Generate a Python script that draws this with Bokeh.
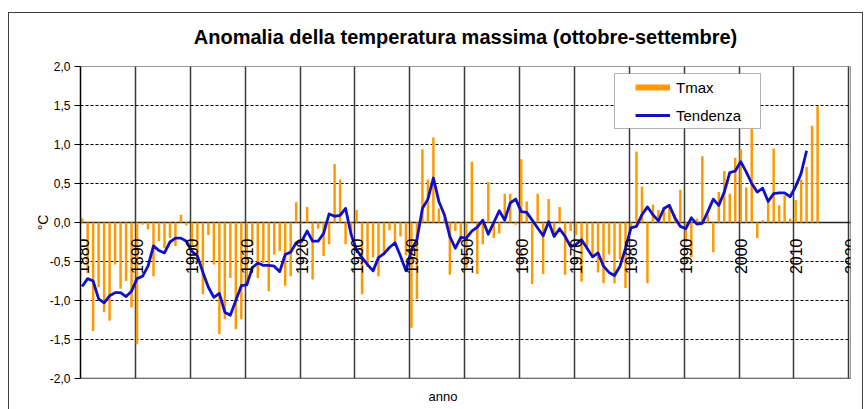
import math
from bokeh.plotting import figure
from bokeh.models import (Range1d, FixedTicker, Span, Legend, LegendItem, Title,
                          ColumnDataSource, BoxAnnotation, InlineStyleSheet)
from bokeh.transform import dodge
from bokeh.core.properties import value
from bokeh.embed import file_html
from bokeh.resources import INLINE

# ---------------- data ----------------
years = list(range(1880, 2015))
tmax = [
    0.05, -0.65, -1.39, -0.83, -1.15, -1.26, -0.54, -0.85, -0.75, -1.09,   # 1880-1889
    -1.56, -0.03, -0.09, -0.69, -0.24, -0.33, -0.20, -0.30, 0.10, -0.04,   # 1890-1899
    -0.30, -0.50, -0.92, -0.16, -0.54, -1.43, -1.24, -0.71, -1.37, -1.24,  # 1900-1909
    -0.78, -0.30, -0.71, -0.52, -0.88, -0.41, -0.37, -0.81, -0.69, 0.26,   # 1910-1919
    -0.02, 0.20, -0.73, -0.08, -0.43, -0.28, 0.75, 0.55, -0.28, -0.16,     # 1920-1929
    0.16, -0.92, -0.57, -0.45, -0.69, -0.42, -0.10, -0.30, -0.18, -0.42,   # 1930-1939
    -1.35, -0.98, 0.94, 0.55, 1.09, 0.18, 0.05, -0.67, -0.11, -0.26,       # 1940-1949
    -0.58, 0.78, -0.66, -0.28, 0.52, -0.20, -0.14, 0.37, 0.37, -0.03,      # 1950-1959
    0.81, 0.27, -0.79, 0.37, -0.66, 0.30, -0.18, 0.20, -0.67, -0.11,       # 1960-1969
    -0.16, -0.76, -0.35, -0.45, -0.64, -0.78, -0.41, -0.78, -0.47, -0.84,  # 1970-1979
    -0.10, 0.91, 0.46, -0.78, 0.23, 0.16, 0.20, 0.22, 0.10, 0.42,          # 1980-1989
    -0.25, -0.45, 0.05, 0.85, 0.10, -0.38, 0.39, 0.66, 0.37, 0.83,         # 1990-1999
    0.94, 0.45, 1.20, -0.20, 0.03, 0.27, 0.95, 0.22, 0.35, 0.05,           # 2000-2009
    0.29, 0.55, 0.71, 1.24, 1.49,                                          # 2010-2014
]
trend_years = list(range(1880, 2013))
trend = [
    -0.82, -0.72, -0.75, -0.98, -1.03, -0.94, -0.90, -0.90, -0.95, -0.88,  # 1880-1889
    -0.72, -0.69, -0.56, -0.30, -0.36, -0.39, -0.25, -0.20, -0.20, -0.24,  # 1890-1899
    -0.37, -0.43, -0.64, -0.83, -0.96, -0.91, -1.15, -1.19, -1.00, -0.81,  # 1900-1909
    -0.80, -0.58, -0.52, -0.55, -0.55, -0.56, -0.63, -0.41, -0.38, -0.26,  # 1910-1919
    -0.24, -0.11, -0.24, -0.24, -0.14, 0.11, 0.08, 0.09, 0.18, -0.15,      # 1920-1929
    -0.35, -0.45, -0.54, -0.62, -0.45, -0.40, -0.32, -0.26, -0.43, -0.62,  # 1930-1939
    -0.35, -0.22, 0.18, 0.30, 0.57, 0.27, 0.10, -0.18, -0.33, -0.19,       # 1940-1949
    -0.20, -0.11, -0.06, 0.03, -0.15, 0.00, 0.15, 0.03, 0.25, 0.30,        # 1950-1959
    0.14, 0.13, 0.03, -0.07, -0.17, 0.01, -0.18, -0.08, -0.18, -0.31,      # 1960-1969
    -0.28, -0.22, -0.33, -0.44, -0.39, -0.56, -0.64, -0.68, -0.56, -0.33,  # 1970-1979
    -0.07, -0.05, 0.10, 0.20, 0.10, 0.02, 0.18, 0.22, 0.06, -0.05,         # 1980-1989
    -0.08, 0.06, -0.02, -0.01, 0.14, 0.30, 0.22, 0.39, 0.64, 0.66,         # 1990-1999
    0.78, 0.65, 0.50, 0.39, 0.44, 0.27, 0.37, 0.38, 0.38, 0.33,            # 2000-2009
    0.46, 0.63, 0.92,                                                      # 2010-2012
]
decades = [1880, 1890, 1900, 1910, 1920, 1930, 1940, 1950, 1960, 1970, 1980, 1990, 2000, 2010, 2020]
decade_labels = [str(d) for d in decades]
yticks = [-2.0, -1.5, -1.0, -0.5, 0.0, 0.5, 1.0, 1.5, 2.0]
ytick_labels = ["-2,0", "-1,5", "-1,0", "-0,5", "0,0", "0,5", "1,0", "1,5", "2,0"]

FONT = "Liberation Sans"
ORANGE = "#FF9900"
BLUE = "#1010C8"

frame_css = InlineStyleSheet(css="""
:host { position: relative; }
:host::after {
  content: "";
  position: absolute;
  left: 8px; top: 12px; right: 5px; bottom: 0px;
  border: 1px solid #404040;
  border-bottom: none;
  pointer-events: none;
}
""")

p = figure(frame_width=770, frame_height=312,
           min_border_left=80, min_border_right=18, min_border_top=66, min_border_bottom=31,
           x_range=Range1d(1880, 2020.3), y_range=Range1d(-2, 2),
           output_backend="svg", toolbar_location=None,
           background_fill_color="white", border_fill_color="white",
           stylesheets=[frame_css])

# title
p.title.text = "Anomalia della temperatura massima (ottobre-settembre)"
p.title.align = "center"
p.title.text_font = FONT
p.title.text_font_size = "20px"
p.title.text_font_style = "bold"
p.title.text_color = "black"
p.title.standoff = 38

p.add_layout(Title(text="anno", align="left", offset=348, text_font=FONT,
                   text_font_size="13px", text_font_style="normal",
                   text_color="black", standoff=16), "below")

p.outline_line_color = "#9a9a9a"
p.outline_line_width = 1

# axes
p.xaxis.visible = False
yax = p.yaxis[0]
yax.ticker = FixedTicker(ticks=yticks)
yax.major_label_overrides = {t: s for t, s in zip(yticks, ytick_labels)}
yax.major_label_text_font = FONT
yax.major_label_text_font_size = "12px"
yax.major_label_text_color = "black"
yax.major_tick_out = 6
yax.major_tick_in = 0
yax.minor_tick_out = 0
yax.minor_tick_in = 0
yax.axis_line_color = "black"
yax.axis_line_width = 1.5
yax.major_tick_line_color = "black"
yax.major_label_standoff = 4
yax.axis_label = "°C"
yax.axis_label_text_font = FONT
yax.axis_label_text_font_size = "14px"
yax.axis_label_text_font_style = "normal"
yax.axis_label_text_color = "black"
yax.axis_label_standoff = -4

# grids
p.xgrid.ticker = FixedTicker(ticks=decades)
p.xgrid.grid_line_color = "#3a3a3a"
p.xgrid.grid_line_width = 1.5
p.ygrid.ticker = FixedTicker(ticks=[-1.5, -1.0, -0.5, 0.5, 1.0, 1.5])
p.ygrid.grid_line_color = "black"
p.ygrid.grid_line_width = 1
p.ygrid.grid_line_dash = "3 2"

p.add_layout(Span(location=0, dimension="width", line_color="#222222", line_width=1.5, level="underlay"))
p.add_layout(Span(location=-2, dimension="width", line_color="#444444", line_width=1.5, level="underlay"))

# data renderers
bar_src = ColumnDataSource(dict(year=years, tmax=tmax))
line_src = ColumnDataSource(dict(year=trend_years, trend=trend))

p.vbar(x=dodge("year", 0.3, range=p.x_range), top="tmax", bottom=0, width=0.45,
       source=bar_src, fill_color=ORANGE, line_color=None)
trend_r = p.line(x=dodge("year", 0.3, range=p.x_range), y="trend", source=line_src,
                 line_color=BLUE, line_width=2.8, line_join="round")

# decade labels along the zero line (rotated)
p.text(x=decades, y=[0.0] * len(decades), text=decade_labels, angle=math.pi / 2,
       text_align="right", text_baseline="middle", x_offset=2, y_offset=16,
       text_font=value(FONT), text_font_size="16px", text_color="black")

# legend: white box + borderless legend inside it
p.add_layout(BoxAnnotation(left=534, right=680, bottom=250, top=305,
                           left_units="screen", right_units="screen",
                           bottom_units="screen", top_units="screen",
                           fill_color="white", fill_alpha=1.0,
                           line_color="black", line_width=1))

tmax_swatch = p.line(x=[1880.0], y=[float("nan")], line_color=ORANGE, line_width=6)
legend = Legend(items=[LegendItem(label="Tmax", renderers=[tmax_swatch]),
                       LegendItem(label="Tendenza", renderers=[trend_r])],
                location=(555, 253), orientation="vertical",
                padding=0, spacing=8, glyph_width=35, glyph_height=20,
                label_height=20, label_standoff=6,
                label_text_font=FONT, label_text_font_size="15px", label_text_color="black",
                border_line_color=None, background_fill_alpha=0.0, margin=0)
p.add_layout(legend, "center")

open("out.html", "w").write(file_html(p, INLINE))
